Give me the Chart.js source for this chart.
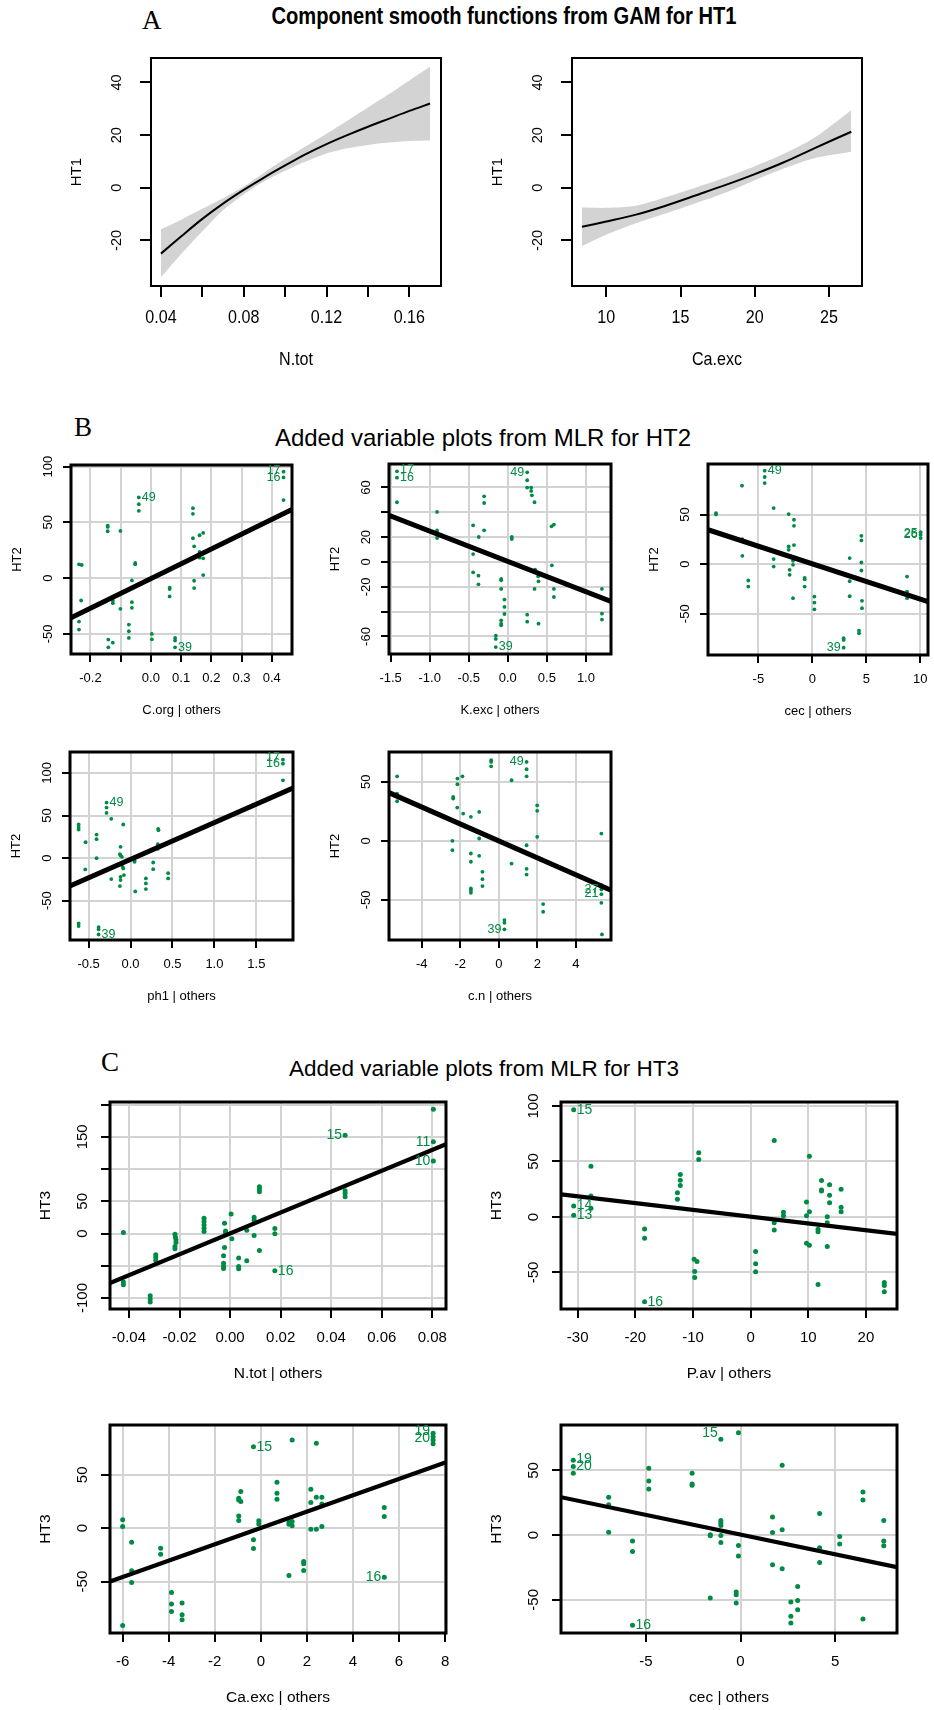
<!DOCTYPE html>
<html>
<head>
<meta charset="utf-8">
<script src="https://cdn.jsdelivr.net/npm/chart.js@4/dist/chart.umd.min.js"></script>
<style>
body { margin: 0; background: #fff; overflow: hidden; }
#page { position: relative; width: 934px; height: 1710px; overflow: hidden; background: #fff; font-family: 'Liberation Sans', Arial, sans-serif; }
#page canvas { position: absolute; }
.head { position: absolute; width: 700px; text-align: center; white-space: nowrap; line-height: 1; color: #000; }
.tag { position: absolute; font-family: 'Liberation Serif', 'Times New Roman', serif; font-size: 27px; line-height: 1; color: #000; }
</style>
</head>
<body>
<div id="page">
  <div class="tag" style="left:142px;top:7px">A</div>
  <div class="head" style="left:154px;top:5px;font-size:23px;font-weight:bold;transform:scaleX(0.875)">Component smooth functions from GAM for HT1</div>
  <div class="tag" style="left:74px;top:414px">B</div>
  <div class="head" style="left:133px;top:426px;font-size:24px">Added variable plots from MLR for HT2</div>
  <div class="tag" style="left:101px;top:1049px">C</div>
  <div class="head" style="left:134px;top:1058px;font-size:22.5px">Added variable plots from MLR for HT3</div>
</div>
<script>
// ---- A: GAM smooths ----
const ntotX = [0.04, 0.05, 0.06, 0.07, 0.08, 0.09, 0.10, 0.11, 0.12, 0.13, 0.14, 0.15, 0.16, 0.17];
const ntotFit = [-25, -18.3, -11.8, -6, -0.8, 4, 8.5, 12.8, 16.6, 20, 23.2, 26.2, 29.2, 32];
const ntotUpper = [-15.8, -12, -8, -4, 0.5, 5.8, 11, 15.8, 20.5, 25.5, 30.5, 35.5, 40.8, 46];
const ntotLower = [-34, -25, -16.5, -8.5, -2.5, 2.5, 6.5, 10, 13, 15, 16.3, 17.2, 17.8, 18];

const caX = [8.36, 10, 12, 14, 16, 18, 20, 22, 24, 26.5];
const caFit = [-14.8, -12.8, -10.2, -6.8, -2.9, 1.0, 5.2, 9.8, 15.0, 21.3];
const caUpper = [-7.5, -7.6, -6.8, -3.6, 0, 3.9, 8.2, 13, 19, 29.5];
const caLower = [-22.1, -17.8, -13.5, -9.8, -5.9, -1.9, 2.9, 7.4, 11.2, 13.7];

const gamYTicks = [-20, 0, 20, 40];
const gamYTickLabels = ['-20', '0', '20', '40'];
const ntotTicks = [0.04, 0.06, 0.08, 0.10, 0.12, 0.14, 0.16];
const ntotTickLabels = ['0.04', '', '0.08', '', '0.12', '', '0.16'];
const caTicks = [10, 15, 20, 25];
const caTickLabels = ['10', '15', '20', '25'];

// ---- B: added variable plots, HT2 ----
const corgX = [0.439, 0.439, 0.439, -0.040, -0.040, -0.040, -0.238, -0.229, -0.231, -0.238, -0.238, -0.143, -0.143, -0.143, -0.101, -0.052, -0.052, -0.063, -0.126, -0.126, -0.063, -0.063, -0.101, -0.073, -0.073, -0.073, -0.141, -0.141, -0.126, 0.003, 0.003, 0.062, 0.062, 0.062, 0.080, 0.080, 0.080, 0.139, 0.139, 0.139, 0.143, 0.143, 0.143, 0.161, 0.161, 0.161, 0.173, 0.173, 0.173, 0.163];
const corgY = [95.4, 90.3, 69.9, 72.3, 66.3, 60.3, 12.3, 11.7, -20.1, -39, -46.2, 47.1, 45.9, 42, 42.3, 13.5, 12.3, -2.1, -20.1, -22.5, -21.6, -26.7, -27.6, -41.7, -47.7, -53.7, -55.2, -62.1, -57.9, -50.1, -54.9, -8.7, -9.9, -16.5, -53.7, -56.1, -62.1, 62.7, 57.6, 35.7, 28.5, -2.4, -9, 38.4, 23.4, 18.3, 40.5, 17.7, 2.7, 22.5];
const corgFit = [[-0.2645, -35.7], [0.467, 61.5]];
const corgIds = [{t: '17', x: 0.439, y: 96.5, s: 'l'}, {t: '16', x: 0.439, y: 90.3, s: 'l'}, {t: '49', x: -0.040, y: 72.3, s: 'r'}, {t: '39', x: 0.080, y: -62.1, s: 'r'}];
const corgXTicks = [-0.2, -0.1, 0, 0.1, 0.2, 0.3, 0.4];
const corgXTickLabels = ['-0.2', '', '0.0', '0.1', '0.2', '0.3', '0.4'];
const corgYTicks = [-50, 0, 50, 100];
const corgYTickLabels = ['-50', '0', '50', '100'];

const kexcX = [-1.419, -1.419, -1.419, -0.906, -0.906, -0.906, -0.906, -0.444, -0.444, -0.444, -0.372, -0.376, -0.376, -0.303, -0.303, -0.303, -0.085, -0.085, -0.085, -0.043, -0.043, -0.043, -0.085, -0.085, -0.085, -0.154, -0.154, -0.154, 0.051, 0.051, 0.248, 0.248, 0.248, 0.299, 0.299, 0.308, 0.342, 0.248, 0.248, 0.393, 0.350, 0.389, 0.393, 0.342, 0.564, 0.560, 0.590, 0.590, 0.590, 1.205, 1.205, 1.205];
const kexcY = [73.0, 67.9, 48.1, 40.3, 25.5, 23.9, 19.3, 29.5, 6.4, -8.3, 20.1, -11.0, -18.0, 52.9, 47.5, 25.5, -13.7, -14.8, -21.7, -30.3, -36.2, -41.9, -47.0, -49.7, -51.0, -59.3, -62.0, -68.5, 20.1, 18.5, 72.2, 65.8, 59.9, 59.9, 57.2, 53.7, 48.1, -42.4, -48.1, -49.7, -6.2, -11.5, -15.6, -21.7, -2.7, 28.7, 30.1, -21.7, -28.2, -21.7, -41.6, -46.4];
const kexcFit = [[-1.521, 37.6], [1.321, -31.7]];
const kexcIds = [{t: '17', x: -1.419, y: 74.5, s: 'r'}, {t: '16', x: -1.419, y: 67.9, s: 'r'}, {t: '49', x: 0.248, y: 72.2, s: 'l'}, {t: '39', x: -0.154, y: -68.5, s: 'r'}];
const kexcXTicks = [-1.5, -1.0, -0.5, 0, 0.5, 1.0];
const kexcXTickLabels = ['-1.5', '-1.0', '-0.5', '0.0', '0.5', '1.0'];
const kexcYTicks = [-60, -40, -20, 0, 20, 40, 60];
const kexcYTickLabels = ['-60', '', '-20', '0', '20', '', '60'];

const cecBX = [-8.92, -8.92, -6.51, -6.48, -6.48, -5.93, -5.93, -4.41, -4.41, -4.41, -3.58, -3.58, -3.58, -2.19, -2.19, -2.19, -2.10, -2.10, -1.79, -1.70, -1.70, -1.70, -1.79, -1.79, -0.71, -0.71, -0.71, 0.19, 0.19, 0.19, 3.46, 3.46, 3.46, 2.90, 2.90, 2.90, 4.32, 4.32, 4.54, 4.54, 4.54, 4.54, 4.60, 4.60, 8.77, 8.77, 8.77, 10.03, 10.03, 10.03];
const cecBY = [51.5, 50.2, 79.1, 25.3, 8.4, -16.5, -22.6, 94.3, 87.9, 81.8, 56.6, 5.1, -2.4, 50.5, 17.8, 14.5, -5.7, -10.8, -34.3, 44.8, 38.7, 19.2, 3.4, -0.7, -13.8, -15.2, -22.6, -32.7, -38.7, -45.5, 6.1, -17.2, -32.3, -74.7, -76.4, -84.2, -67.0, -69.7, 28.6, 23.9, 1.7, -6.4, -37.0, -44.4, -12.5, -27.6, -34.3, 32.3, 29.6, 26.3];
const cecBFit = [[-9.66, 34.7], [10.71, -37.7]];
const cecBIds = [{t: '49', x: -4.41, y: 94.3, s: 'r'}, {t: '39', x: 2.90, y: -84.2, s: 'l'}, {t: '25', x: 10.03, y: 30.6, s: 'l'}, {t: '26', x: 10.03, y: 30.3, s: 'l'}];
const cecBXTicks = [-5, 0, 5, 10];
const cecBXTickLabels = ['-5', '0', '5', '10'];
const cecBYTicks = [-50, 0, 50];
const cecBYTickLabels = ['-50', '0', '50'];

const ph1X = [1.817, 1.817, 1.817, -0.286, -0.286, -0.286, -0.230, -0.619, -0.619, -0.619, -0.536, -0.540, -0.405, -0.405, -0.405, -0.087, -0.119, -0.127, -0.119, -0.103, -0.095, -0.087, -0.079, -0.230, -0.119, -0.119, -0.127, 0.056, 0.048, 0.048, 0.183, 0.183, 0.183, 0.270, 0.270, 0.329, 0.333, 0.325, 0.325, 0.448, 0.448, -0.619, -0.619, -0.381, -0.381, -0.381];
const ph1Y = [115.6, 110.9, 91.4, 65.2, 59.4, 53.1, 46.1, 39.5, 36.7, 33.6, 18.75, -13.3, 27.7, 22.3, 0, 39.5, 13.3, 4.7, 3.1, 1.6, -10.2, -12.1, -19.9, -24.6, -21.9, -25.8, -32.8, -39.1, -3.1, -4.3, -23.8, -29.7, -36.3, -5.1, -12.9, 34.4, 32.8, 16.4, 10.9, -17.6, -23.8, -76.6, -79.7, -80.9, -83.6, -89.5];
const ph1Fit = [[-0.722, -32.8], [1.937, 82.4]];
const ph1Ids = [{t: '17', x: 1.817, y: 118, s: 'l'}, {t: '16', x: 1.817, y: 110.9, s: 'l'}, {t: '49', x: -0.286, y: 65.2, s: 'r'}, {t: '39', x: -0.381, y: -89.5, s: 'r'}];
const ph1XTicks = [-0.5, 0, 0.5, 1.0, 1.5];
const ph1XTickLabels = ['-0.5', '0.0', '0.5', '1.0', '1.5'];
const ph1YTicks = [-50, 0, 50, 100];
const ph1YTickLabels = ['-50', '0', '50', '100'];

const cnX = [-5.28, -5.28, -5.28, -5.28, -2.37, -2.37, -2.15, -2.15, -1.89, -2.16, -1.85, -1.45, -1.02, -1.02, -2.41, -2.41, -1.45, -1.45, -1.02, -0.85, -0.85, -0.85, -1.45, -1.45, -1.45, -0.40, -0.40, -0.40, 0.66, 0.66, 1.44, 1.44, 1.44, 1.44, 1.44, 1.44, 0.29, 0.29, 0.29, 1.99, 1.99, 1.99, 2.30, 2.30, 5.32, 5.32, 5.32, 5.32, 5.32, 5.35];
const cnY = [54.6, 40.0, 37.7, 33.5, 37.2, 35.8, 52.7, 47.9, 54.6, 28.2, 23.1, 20.3, 24.5, 2.0, 0, -7.9, -10.7, -17.7, -12.7, -26.2, -32.4, -38.3, -40.3, -41.7, -43.9, 68.2, 66.8, 63.1, 51.3, -19.2, 66.8, 60.6, 54.6, -3.7, -23.7, -28.5, -67.0, -69.3, -74.9, 30.1, 25.4, 3.4, -53.5, -60.0, 6.2, -37.5, -41.1, -45.1, -52.4, -79.2];
const cnFit = [[-5.70, 40.8], [5.82, -41.7]];
const cnIds = [{t: '49', x: 1.44, y: 66.8, s: 'l'}, {t: '39', x: 0.29, y: -74.9, s: 'l'}, {t: '27', x: 5.32, y: -41.1, s: 'l'}, {t: '21', x: 5.32, y: -44.5, s: 'l'}];
const cnXTicks = [-4, -2, 0, 2, 4];
const cnXTickLabels = ['-4', '-2', '0', '2', '4'];
const cnYTicks = [-50, 0, 50];
const cnYTickLabels = ['-50', '0', '50'];

// ---- C: added variable plots, HT3 ----
const ntotCX = [0.0804, 0.0804, 0.0804, 0.0455, 0.0455, 0.0455, 0.0455, -0.0422, -0.0422, -0.0422, -0.0316, -0.0316, -0.0316, -0.0294, -0.0294, -0.0294, -0.0218, -0.0216, -0.0214, -0.0214, -0.0218, -0.0218, -0.0103, -0.0103, -0.0103, -0.0103, -0.0103, -0.0022, -0.0018, -0.0018, -0.0022, -0.0026, -0.0026, -0.0026, -0.0026, 0.0004, 0.0007, 0.0034, 0.0034, 0.0034, 0.0066, 0.0066, 0.0095, 0.0095, 0.0095, 0.0116, 0.0116, 0.0116, 0.0116, 0.0177, 0.0177, 0.0177];
const ntotCY = [192.8, 142.3, 112.4, 152.6, 66.5, 62.4, 57.2, 1.5, -75.3, -79.4, -96.4, -101.5, -106.2, -33, -36.6, -41.8, -1, -5.7, -9.8, -13.9, -20.1, -23.7, 23.7, 18.6, 13.4, 8.2, 3.1, 16, 4.1, 1.5, -21.6, -34.5, -45.9, -51, -54.1, 30.4, -8.2, -38.1, -51, -54.6, 5.2, -42.3, 25.3, 21.1, -3.1, 72.7, 69.1, 64.9, -26.3, 7.7, -0.5, -57.7];
const ntotCFit = [[-0.0475, -76.8], [0.0854, 138.7]];
const ntotCIds = [{t: '15', x: 0.0455, y: 152.6, s: 'l'}, {t: '11', x: 0.0804, y: 142.3, s: 'l'}, {t: '10', x: 0.0804, y: 112.4, s: 'l'}, {t: '16', x: 0.0177, y: -57.7, s: 'r'}];
const ntotCXTicks = [-0.04, -0.02, 0, 0.02, 0.04, 0.06, 0.08];
const ntotCXTickLabels = ['-0.04', '-0.02', '0.00', '0.02', '0.04', '0.06', '0.08'];
const ntotCYTicks = [-100, -50, 0, 50, 100, 150, 200];
const ntotCYTickLabels = ['-100', '', '0', '50', '', '150', ''];

const pavX = [-30.7, -30.7, -30.7, -27.7, -27.7, -27.7, -18.4, -18.4, -18.4, -12.7, -12.7, -12.2, -12.2, -12.2, -9.0, -9.0, -9.8, -9.3, -9.7, -9.7, 0.87, 0.87, 0.87, 4.1, 4.1, 4.1, 5.7, 5.7, 9.7, 9.7, 9.7, 10.2, 10.2, 10.2, 11.7, 11.7, 11.7, 12.3, 12.3, 12.3, 13.3, 13.3, 13.3, 13.7, 13.7, 13.7, 15.7, 15.7, 15.7, 23.2, 23.2, 23.2];
const pavY = [96.7, 9.9, 1.5, 45.8, 18.9, 7.8, -10.8, -19.2, -76.3, 21.9, 15.9, 38.3, 33.2, 28.4, 57.8, 51.8, -38.0, -40.1, -49.1, -54.5, -31.1, -42.2, -49.4, 68.9, -5.1, -11.7, 4.2, 1.2, 13.5, 1.2, -23.7, -25.4, 54.8, 4.8, -11.1, -13.2, -60.8, 32.9, 24.3, 23.4, 0.3, -5.1, -26.6, 29, 19.5, 12.9, 24.9, 8.7, 4.8, -59, -61.7, -67.4];
const pavFit = [[-32.9, 20.4], [25.4, -15.3]];
const pavIds = [{t: '15', x: -30.7, y: 96.7, s: 'r'}, {t: '14', x: -30.7, y: 10.5, s: 'r'}, {t: '13', x: -30.7, y: 1.5, s: 'r'}, {t: '16', x: -18.4, y: -76.3, s: 'r'}];
const pavXTicks = [-30, -20, -10, 0, 10, 20];
const pavXTickLabels = ['-30', '-20', '-10', '0', '10', '20'];
const pavYTicks = [-50, 0, 50, 100];
const pavYTickLabels = ['-50', '0', '50', '100'];

const caCX = [-6.0, -6.0, -6.0, -5.61, -5.61, -5.61, -4.35, -4.35, -3.88, -3.88, -3.88, -3.42, -3.42, -3.42, -0.96, -0.96, -0.87, -0.87, -0.96, -0.96, -0.32, -0.32, -0.32, -0.09, -0.09, 0.70, 0.70, 0.70, 1.22, 1.36, 1.22, 1.22, 1.36, 1.36, 1.86, 1.86, 1.86, 2.17, 2.17, 2.41, 2.41, 2.17, 2.41, 2.65, 2.65, 2.65, 5.36, 5.36, 5.36, 7.48, 7.48, 7.48, 7.48];
const caCY = [7.8, 1.6, -91, -13.1, -39.9, -50.8, -18.7, -24.3, -60.1, -71.0, -77.9, -70.1, -81, -85.7, 28, 26.5, 24.9, 34.3, 11.5, 7.2, 76.3, -10.9, -19, 6.9, 4.0, 43, 32.7, 27.1, -44.2, 82.6, 5.3, 3.7, 2.2, 6.2, -31.2, -33.3, -39.6, 36.4, 24, 79.4, 29, -0.9, -0.9, 29, 22.7, 1.6, 19.3, 10.9, -45.8, 88.8, 85.7, 82.6, 79.1];
const caCFit = [[-6.55, -49.8], [8.04, 61.7]];
const caCIds = [{t: '15', x: -0.32, y: 76.3, s: 'r'}, {t: '16', x: 5.36, y: -45.8, s: 'l'}, {t: '19', x: 7.48, y: 91, s: 'l'}, {t: '20', x: 7.48, y: 84, s: 'l'}];
const caCXTicks = [-6, -4, -2, 0, 2, 4, 6, 8];
const caCXTickLabels = ['-6', '-4', '-2', '0', '2', '4', '6', '8'];
const caCYTicks = [-50, 0, 50];
const caCYTickLabels = ['-50', '0', '50'];

const cecCX = [-8.84, -8.84, -8.84, -1.04, -0.11, -6.97, -6.97, -6.97, -5.71, -5.71, -5.71, -4.85, -4.85, -4.85, -2.56, -2.56, -2.56, -1.6, -1.6, -1.6, -1.04, -1.04, -1.04, -1.04, -1.04, -0.11, -0.11, -0.23, -0.23, -0.23, 1.69, 1.69, 1.69, 2.2, 2.2, 2.2, 2.66, 2.66, 2.66, 3.02, 3.02, 3.02, 4.18, 4.18, 4.18, 5.24, 5.24, 6.47, 6.47, 6.47, 7.57, 7.57, 7.57];
const cecCY = [57.8, 53, 47.8, 74, 79.2, 29.3, 23.4, 2.3, -4.6, -12.6, -69.7, 51.7, 41.9, 35.7, 47.8, 39.6, 38.6, 0.3, -0.5, -48.6, 11.3, 9.3, 7.5, -0.3, -5.7, -8, -16.2, -44, -46, -52.4, 14.1, 2.1, -22.9, 54, 4.1, -26, -51.7, -62.7, -67.9, -39.6, -50.4, -57.6, 16.7, -9.8, -21.1, -1.0, -6.9, 33.4, 27.2, -64.8, 11.3, -4.6, -8.2];
const cecCFit = [[-9.49, 29.3], [8.27, -24.7]];
const cecCIds = [{t: '19', x: -8.84, y: 59, s: 'r'}, {t: '20', x: -8.84, y: 53, s: 'r'}, {t: '15', x: -1.04, y: 79, s: 'l'}, {t: '16', x: -5.71, y: -69.7, s: 'r'}];
const cecCXTicks = [-5, 0, 5];
const cecCXTickLabels = ['-5', '0', '5'];
const cecCYTicks = [-50, 0, 50];
const cecCYTickLabels = ['-50', '0', '50'];

// ---- drawing ----
const GREEN = '#008B45';
const FONT = '"Liberation Sans", Arial, sans-serif';
const styles = {
    A: {box: 2, tick: 11, xTick: 18.5, xTickOff: 32, xTitle: 18.5, xTitleOff: 74, xSquash: 0.87, yTick: 14.5, yTickOff: 34, yTitle: 15, yTitleOff: 74, grid: false},
    B: {box: 3, tick: 8, xTick: 13, xTickOff: 24, xTitle: 13, xTitleOff: 56, yTick: 13, yTickOff: 23, yTitle: 13, yTitleOff: 54, grid: true, dot: 1.9, fitW: 5, lab: 12.5},
    C: {box: 3, tick: 9, xTick: 15, xTickOff: 29, xTitle: 15.5, xTitleOff: 65, yTick: 15, yTickOff: 27, yTitle: 15.5, yTitleOff: 64, grid: true, dot: 2.5, fitW: 4.2, lab: 14}
};
const page = document.getElementById('page');
const pts = (xs, ys) => xs.map((x, i) => ({x: x, y: ys[i]}));

// horizontal text, optionally squeezed sideways like the original narrow face
function hText(ctx, str, x, y, squash) {
    ctx.save();
    ctx.translate(x, y);
    if (squash) ctx.scale(squash, 1);
    ctx.fillText(str, 0, 0);
    ctx.restore();
}

function vText(ctx, str, x, y) {
    ctx.save();
    ctx.translate(x, y);
    ctx.rotate(-Math.PI / 2);
    ctx.fillText(str, 0, 0);
    ctx.restore();
}

function rAxes(p) {
    const st = styles[p.style];
    return {
        id: 'rAxes',
        afterDraw(chart) {
            const ctx = chart.ctx, a = chart.chartArea;
            const xs = chart.scales.x, ys = chart.scales.y;
            ctx.save();
            ctx.fillStyle = '#000';
            ctx.strokeStyle = '#000';
            // tick marks
            ctx.lineWidth = 2;
            ctx.beginPath();
            p.xTicks.forEach(v => {
                const px = Math.round(xs.getPixelForValue(v));
                ctx.moveTo(px, a.bottom); ctx.lineTo(px, a.bottom + st.tick);
            });
            p.yTicks.forEach(v => {
                const py = Math.round(ys.getPixelForValue(v));
                ctx.moveTo(a.left, py); ctx.lineTo(a.left - st.tick, py);
            });
            ctx.stroke();
            // box
            ctx.lineWidth = st.box;
            ctx.strokeRect(a.left, a.top, a.right - a.left, a.bottom - a.top);
            // tick labels
            ctx.textAlign = 'center';
            ctx.textBaseline = 'middle';
            ctx.font = st.xTick + 'px ' + FONT;
            p.xTicks.forEach((v, i) => {
                hText(ctx, p.xLabels[i], xs.getPixelForValue(v), a.bottom + st.xTickOff, st.xSquash);
            });
            ctx.font = st.yTick + 'px ' + FONT;
            p.yTicks.forEach((v, i) => {
                vText(ctx, p.yLabels[i], a.left - st.yTickOff, ys.getPixelForValue(v));
            });
            // axis titles
            ctx.font = st.xTitle + 'px ' + FONT;
            hText(ctx, p.xTitle, (a.left + a.right) / 2, a.bottom + st.xTitleOff, st.xSquash);
            ctx.font = st.yTitle + 'px ' + FONT;
            vText(ctx, p.yTitle, a.left - st.yTitleOff, (a.top + a.bottom) / 2);
            // point ids
            if (p.ids) {
                ctx.fillStyle = GREEN;
                ctx.font = st.lab + 'px ' + FONT;
                p.ids.forEach(d => {
                    const px = xs.getPixelForValue(d.x), py = ys.getPixelForValue(d.y);
                    ctx.textAlign = d.s === 'l' ? 'right' : 'left';
                    ctx.fillText(d.t, d.s === 'l' ? px - 3 : px + 3, py);
                });
            }
            ctx.restore();
        }
    };
}

function panel(p) {
    const st = styles[p.style];
    const pad = {left: 100, top: 12, right: 10, bottom: 90};
    const [l, t, r, b] = p.box;
    const canvas = document.createElement('canvas');
    canvas.width = r - l + pad.left + pad.right;
    canvas.height = b - t + pad.top + pad.bottom;
    canvas.style.left = (l - pad.left) + 'px';
    canvas.style.top = (t - pad.top) + 'px';
    page.appendChild(canvas);

    const axis = (min, max, ticks, isX) => ({
        type: 'linear', min: min, max: max, bounds: 'data',
        ticks: {display: false, includeBounds: false},
        grid: {display: st.grid, color: '#d3d3d3', lineWidth: 2, drawTicks: false},
        border: {display: false},
        afterBuildTicks: s => { s.ticks = ticks.map(v => ({value: v})); },
        afterFit: s => { if (isX) s.height = 0; else s.width = 0; }
    });

    new Chart(canvas, {
        type: p.type,
        data: {datasets: p.datasets},
        options: {
            responsive: false,
            animation: false,
            devicePixelRatio: 1,
            layout: {padding: pad, autoPadding: false},
            plugins: {legend: {display: false}, tooltip: {enabled: false}},
            scales: {
                x: axis(p.xMin, p.xMax, p.xTicks, true),
                y: axis(p.yMin, p.yMax, p.yTicks, false)
            }
        },
        plugins: [rAxes(p)]
    });
}

function gamSets(xs, fit, upper, lower) {
    return [
        {data: pts(xs, fit), borderColor: '#000', borderWidth: 2, pointRadius: 0, tension: 0.3, fill: false},
        {data: pts(xs, upper), borderWidth: 0, pointRadius: 0, tension: 0.3, fill: '+1', backgroundColor: '#d3d3d3'},
        {data: pts(xs, lower), borderWidth: 0, pointRadius: 0, tension: 0.3, fill: false}
    ];
}

function avpSets(xs, ys, fit, st) {
    return [
        {data: fit.map(f => ({x: f[0], y: f[1]})), showLine: true, borderColor: '#000', borderWidth: styles[st].fitW, pointRadius: 0, clip: 0},
        {data: pts(xs, ys), pointRadius: styles[st].dot, backgroundColor: GREEN, borderWidth: 0}
    ];
}

// A
panel({style: 'A', type: 'line', box: [151, 58, 441, 286], xMin: 0.0352, xMax: 0.1753, yMin: -37.3, yMax: 49.3,
    xTicks: ntotTicks, xLabels: ntotTickLabels, yTicks: gamYTicks, yLabels: gamYTickLabels, xTitle: 'N.tot', yTitle: 'HT1',
    datasets: gamSets(ntotX, ntotFit, ntotUpper, ntotLower)});
panel({style: 'A', type: 'line', box: [572, 58, 862, 286], xMin: 7.69, xMax: 27.22, yMin: -37.3, yMax: 49.3,
    xTicks: caTicks, xLabels: caTickLabels, yTicks: gamYTicks, yLabels: gamYTickLabels, xTitle: 'Ca.exc', yTitle: 'HT1',
    datasets: gamSets(caX, caFit, caUpper, caLower)});

// B
panel({style: 'B', type: 'scatter', box: [71, 465, 292, 654], xMin: -0.2645, xMax: 0.467, yMin: -68.1, yMax: 101.4,
    xTicks: corgXTicks, xLabels: corgXTickLabels, yTicks: corgYTicks, yLabels: corgYTickLabels, xTitle: 'C.org | others', yTitle: 'HT2',
    ids: corgIds, datasets: avpSets(corgX, corgY, corgFit, 'B')});
panel({style: 'B', type: 'scatter', box: [389, 464, 611, 654], xMin: -1.521, xMax: 1.321, yMin: -74.1, yMax: 78.9,
    xTicks: kexcXTicks, xLabels: kexcXTickLabels, yTicks: kexcYTicks, yLabels: kexcYTickLabels, xTitle: 'K.exc | others', yTitle: 'HT2',
    ids: kexcIds, datasets: avpSets(kexcX, kexcY, kexcFit, 'B')});
panel({style: 'B', type: 'scatter', box: [708, 464, 928, 655], xMin: -9.66, xMax: 10.71, yMin: -91.6, yMax: 101,
    xTicks: cecBXTicks, xLabels: cecBXTickLabels, yTicks: cecBYTicks, yLabels: cecBYTickLabels, xTitle: 'cec | others', yTitle: 'HT2',
    ids: cecBIds, datasets: avpSets(cecBX, cecBY, cecBFit, 'B')});
panel({style: 'B', type: 'scatter', box: [70, 752, 293, 940], xMin: -0.722, xMax: 1.937, yMin: -96.1, yMax: 124.6,
    xTicks: ph1XTicks, xLabels: ph1XTickLabels, yTicks: ph1YTicks, yLabels: ph1YTickLabels, xTitle: 'ph1 | others', yTitle: 'HT2',
    ids: ph1Ids, datasets: avpSets(ph1X, ph1Y, ph1Fit, 'B')});
panel({style: 'B', type: 'scatter', box: [389, 752, 611, 940], xMin: -5.70, xMax: 5.82, yMin: -83.9, yMax: 75.2,
    xTicks: cnXTicks, xLabels: cnXTickLabels, yTicks: cnYTicks, yLabels: cnYTickLabels, xTitle: 'c.n | others', yTitle: 'HT2',
    ids: cnIds, datasets: avpSets(cnX, cnY, cnFit, 'B')});

// C
panel({style: 'C', type: 'scatter', box: [110, 1102, 446, 1309], xMin: -0.0475, xMax: 0.0854, yMin: -117, yMax: 204,
    xTicks: ntotCXTicks, xLabels: ntotCXTickLabels, yTicks: ntotCYTicks, yLabels: ntotCYTickLabels, xTitle: 'N.tot | others', yTitle: 'HT3',
    ids: ntotCIds, datasets: avpSets(ntotCX, ntotCY, ntotCFit, 'C')});
panel({style: 'C', type: 'scatter', box: [561, 1102, 897, 1309], xMin: -32.9, xMax: 25.4, yMin: -82.9, yMax: 103.6,
    xTicks: pavXTicks, xLabels: pavXTickLabels, yTicks: pavYTicks, yLabels: pavYTickLabels, xTitle: 'P.av | others', yTitle: 'HT3',
    ids: pavIds, datasets: avpSets(pavX, pavY, pavFit, 'C')});
panel({style: 'C', type: 'scatter', box: [110, 1425, 446, 1633], xMin: -6.55, xMax: 8.04, yMin: -98.1, yMax: 96.6,
    xTicks: caCXTicks, xLabels: caCXTickLabels, yTicks: caCYTicks, yLabels: caCYTickLabels, xTitle: 'Ca.exc | others', yTitle: 'HT3',
    ids: caCIds, datasets: avpSets(caCX, caCY, caCFit, 'C')});
panel({style: 'C', type: 'scatter', box: [561, 1425, 897, 1633], xMin: -9.49, xMax: 8.27, yMin: -75.6, yMax: 85.1,
    xTicks: cecCXTicks, xLabels: cecCXTickLabels, yTicks: cecCYTicks, yLabels: cecCYTickLabels, xTitle: 'cec | others', yTitle: 'HT3',
    ids: cecCIds, datasets: avpSets(cecCX, cecCY, cecCFit, 'C')});
</script>
</body>
</html>
